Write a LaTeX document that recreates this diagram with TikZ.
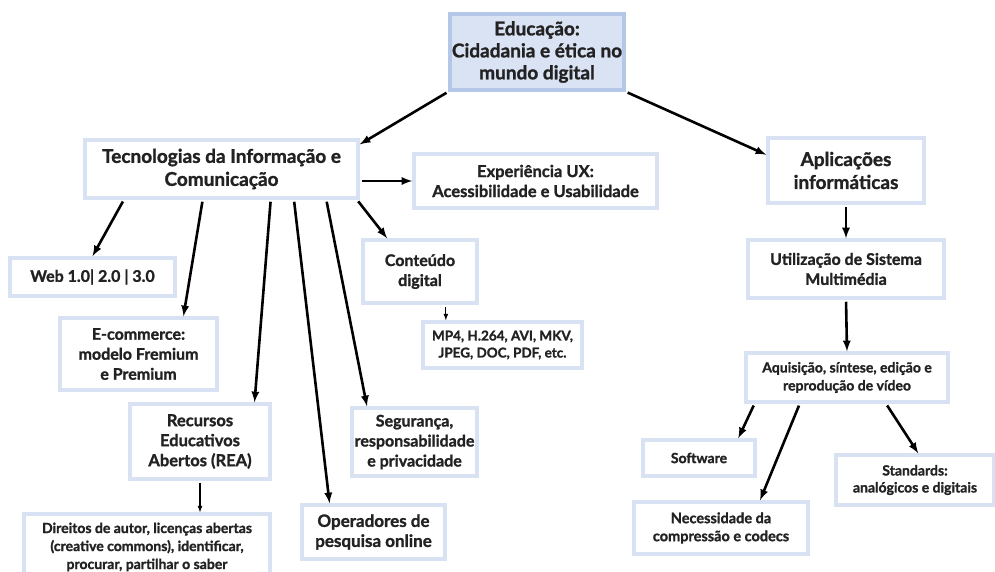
\documentclass[tikz,border=0pt]{standalone}
\usepackage{fontspec}
\setmainfont{Lato}[BoldFont={Lato Bold}, BoldFeatures={FakeBold=1.3}]
\usetikzlibrary{arrows,calc}

\definecolor{boxline}{HTML}{D9E2F3}
\definecolor{topline}{HTML}{B4C7E7}
\definecolor{topfill}{HTML}{DAE3F3}
\definecolor{ink}{HTML}{222222}
\newcommand{\fsz}[2]{\fontsize{#1pt}{#2pt}\selectfont\bfseries}

\begin{document}
\begin{tikzpicture}[x=1pt, y=-1pt,
  box/.style={draw=boxline, line width=3.5pt, fill=white, align=center, text=ink, inner sep=2pt},
  topbox/.style={box, draw=topline, fill=topfill},
  arr/.style={-latex, line width=2.6pt, shorten <=2pt},
  thinarr/.style={-latex, line width=1.2pt, shorten <=2pt}]
  \useasboundingbox (0,0) rectangle (995,572);

  % main branches
  \node[topbox, minimum width=170pt, minimum height=76pt, font=\fsz{19}{22}] (edu) at (537,52) {Educação:\\Cidadania e ética no\\mundo digital};
  \node[box, minimum width=273pt, minimum height=58pt, font=\fsz{19}{23}] (tic) at (221.5,169) {Tecnologias da Informação e\\Comunicação};
  \node[box, minimum width=156pt, minimum height=65pt, font=\fsz{19}{23}] (apl) at (846,170.5) {Aplicações\\informáticas};

  % TIC
  \node[box, minimum width=243pt, minimum height=54pt, font=\fsz{16.5}{20}] (ux) at (535.5,181) {Experiência UX:\\Acessibilidade e Usabilidade};
  \node[box, minimum width=165pt, minimum height=38pt, font=\fsz{16}{18}] (web) at (92.5,277) {Web 1.0| 2.0 | 3.0};
  \node[box, minimum width=114pt, minimum height=63pt, font=\fsz{16}{20}] (cont) at (420,271.5) {Conteúdo\\digital};
  \node[box, minimum width=159pt, minimum height=46pt, font=\fsz{13.5}{17}] (fmt) at (502.5,345) {MP4, H.264, AVI, MKV,\\JPEG, DOC, PDF, etc.};
  \node[box, minimum width=157pt, minimum height=72pt, font=\fsz{16}{20}] (ecom) at (138.5,354) {E-commerce:\\modelo Fremium\\e Premium};
  \node[box, minimum width=140pt, minimum height=75pt, font=\fsz{16.5}{20}] (rea) at (200,441.5) {Recursos\\Educativos\\Abertos (REA)};
  \node[box, minimum width=125pt, minimum height=68pt, font=\fsz{16}{20}] (seg) at (414.5,442) {Segurança,\\responsabilidade\\e privacidade};
  \node[box, minimum width=143pt, minimum height=54pt, font=\fsz{17}{20}] (oper) at (373.5,532) {Operadores de\\pesquisa online};
  \node[box, minimum width=246pt, minimum height=66pt, font=\fsz{14}{18}] (dir) at (147,547) {Direitos de autor, licenças abertas\\(creative commons), identificar,\\procurar, partilhar o saber};

  % aplicacoes
  \node[box, minimum width=196pt, minimum height=58pt, font=\fsz{16}{20}] (util) at (846,269) {Utilização de Sistema\\Multimédia};
  \node[box, minimum width=202pt, minimum height=49pt, font=\fsz{14}{18}] (aqu) at (847,377.5) {Aquisição, síntese, edição e\\reprodução de vídeo};
  \node[box, minimum width=112pt, minimum height=36pt, font=\fsz{14}{16}] (soft) at (699,458) {Software};
  \node[box, minimum width=158pt, minimum height=50pt, font=\fsz{14}{17}] (std) at (915,480) {Standards:\\analógicos e digitais};
  \node[box, minimum width=174pt, minimum height=52pt, font=\fsz{14.5}{18}] (nec) at (721,528) {Necessidade da\\compressão e codecs};

  \coordinate (contout) at ($(cont.south west)!0.72!(cont.south east)$);

  \path[arr]
  (edu.south west) edge ($(tic.north east)!0.1!(tic.south east)$)
  (edu.south east) edge ($(apl.north west)!0.27!(apl.south west)$)
  (tic.east |- ux.west) edge (ux.west)
  ($(tic.south west)!0.147!(tic.south east)$) edge (web.north)
  ($(tic.south west)!0.432!(tic.south east)$) edge ($(ecom.north west)!0.78!(ecom.north east)$)
  ($(tic.south west)!0.678!(tic.south east)$) edge ($(rea.north west)!0.88!(rea.north east)$)
  ($(tic.south west)!0.762!(tic.south east)$) edge ($(oper.north west)!0.2!(oper.north east)$)
  ($(tic.south west)!0.879!(tic.south east)$) edge ($(seg.north west)!0.13!(seg.north east)$)
  ($(tic.south west)!0.99!(tic.south east)$) edge ($(cont.north west)!0.22!(cont.north east)$)
  (apl.south) edge (util.north)
  (util.south) edge (aqu.north)
  ($(aqu.south west)!0.05!(aqu.south east)$) edge ($(soft.north west)!0.84!(soft.north east)$)
  ($(aqu.south west)!0.27!(aqu.south east)$) edge ($(nec.north west)!0.72!(nec.north east)$)
  ($(aqu.south west)!0.69!(aqu.south east)$) edge ($(std.north west)!0.52!(std.north east)$);
  \path[thinarr]
  (contout) edge (contout |- fmt.north)
  (rea.south) edge (rea.south |- dir.north);
\end{tikzpicture}
\end{document}
